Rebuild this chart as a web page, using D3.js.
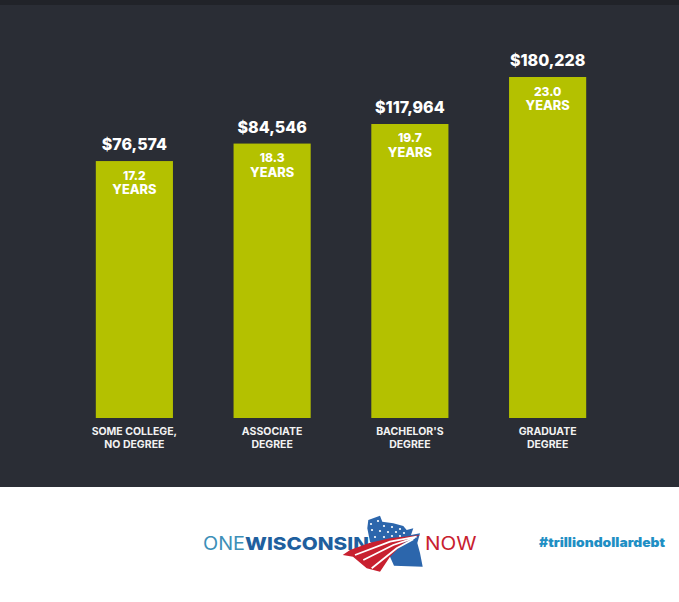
<!DOCTYPE html>
<html><head><meta charset="utf-8">
<script src="https://cdn.jsdelivr.net/npm/d3@7"></script>
<style>html,body{margin:0;padding:0;background:#fff}svg{display:block}text{font-family:Inter,"Open Sans",sans-serif}</style>
</head><body><div id="c"></div>
<script>
const categories=[["SOME COLLEGE,","NO DEGREE"],["ASSOCIATE","DEGREE"],["BACHELOR'S","DEGREE"],["GRADUATE","DEGREE"]];
const debts=["$76,574","$84,546","$117,964","$180,228"];
const years=["17.2","18.3","19.7","23.0"];
const barLevels=[17.33,18.51,19.83,23.0];
const W=679,H=602;
const svg=d3.select("#c").append("svg").attr("width",W).attr("height",H);
svg.append("rect").attr("width",W).attr("height",H).attr("fill","#fff");
svg.append("rect").attr("width",W).attr("height",487).attr("fill","#2a2d35");
svg.append("rect").attr("width",W).attr("height",5).attr("fill","#212329");
const x=d3.scaleBand().domain(d3.range(4)).range([65.5,616.5]).paddingInner(.44).paddingOuter(.22);
const y=d3.scaleLinear().domain([0,23]).range([418,77]);
const cx=i=>x(i)+x.bandwidth()/2;
const g=svg.selectAll("g.b").data(barLevels).join("g").attr("class","b");
g.append("rect").attr("x",(d,i)=>x(i)).attr("y",d=>y(d)).attr("width",x.bandwidth()).attr("height",d=>y(0)-y(d)).attr("fill","#b4c100");
g.append("text").attr("x",(d,i)=>cx(i)).attr("y",d=>y(d)-11).attr("text-anchor","middle").attr("fill","#fff").attr("font-size",16).attr("font-weight",800).text((d,i)=>debts[i]);
const t=g.append("text").attr("text-anchor","middle").attr("fill","#fff").attr("font-weight",800);
t.append("tspan").attr("x",(d,i)=>cx(i)).attr("y",d=>y(d)+18.5).attr("font-size",12).text((d,i)=>years[i]);
t.append("tspan").attr("x",(d,i)=>cx(i)).attr("y",d=>y(d)+33).attr("font-size",12.8).text("YEARS");
categories.forEach((c,i)=>svg.append("text").attr("text-anchor","middle").attr("fill","#f2f2f2").attr("font-size",10.5).attr("font-weight",700).selectAll("tspan").data(c).join("tspan").attr("x",cx(i)).attr("y",(s,j)=>435+j*13).text(s=>s));
// logo
const logo=svg.append("g");
logo.append("text").attr("x",203).attr("y",549.5).attr("fill","#3d8fb8").attr("font-size",18).attr("font-weight",400).attr("textLength",42).attr("lengthAdjust","spacingAndGlyphs").text("ONE");
logo.append("text").attr("x",245).attr("y",549.5).attr("fill","#1f5f9e").attr("font-size",18).attr("font-weight",800).attr("textLength",124).attr("lengthAdjust","spacingAndGlyphs").text("WISCONSIN");
logo.append("text").attr("x",425).attr("y",549.5).attr("fill","#c8202f").attr("font-size",18).attr("font-weight",400).attr("textLength",51.5).attr("lengthAdjust","spacingAndGlyphs").text("NOW");
logo.append("path").attr("fill","#2c66ac").attr("d","M367.3,528.3 L368.3,520 L380,515.7 L382.3,521.7 L393.3,523.3 L403.3,526 L406.7,530 L413.3,528.3 L411,535 L420,533.3 L417.3,543 L420,553 L422.7,566.7 L394,565.7 L390,556.7 L370,541.7 Z");
logo.append("path").attr("fill","#c8202f").attr("d","M342.7,555 L350,550 L370,542.7 L390,538.3 L420,535 L403.3,543.3 L390,556.7 L380,571.7 L366.7,568.3 L353,556.7 Z");
["M355,555 L390,541.7 L416.7,536.7","M363.3,560 L393.3,545 L415,537.7","M371.7,568.3 L396.7,548.3 L413.3,539.3"].forEach(d=>logo.append("path").attr("fill","none").attr("stroke","#fff").attr("stroke-width",1.8).attr("d",d));
[[371,524],[378,521],[384,526],[392,527],[400,529],[372,530],[380,531],[388,532],[396,532],[404,533],[375,537],[384,537],[392,536],[400,536]].forEach(p=>logo.append("circle").attr("cx",p[0]).attr("cy",p[1]).attr("r",1.1).attr("fill","#fff"));
svg.append("text").attr("x",665).attr("y",547).attr("text-anchor","end").attr("fill","#1f8fc4").attr("font-size",12.5).attr("font-weight",900).attr("textLength",126).attr("lengthAdjust","spacingAndGlyphs").text("#trilliondollardebt");
</script></body></html>
